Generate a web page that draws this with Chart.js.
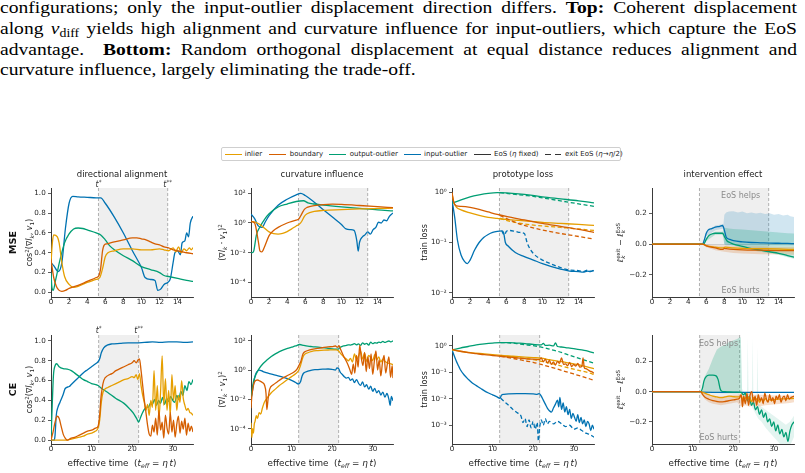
<!DOCTYPE html>
<html>
<head>
<meta charset="utf-8">
<script src="https://cdn.jsdelivr.net/npm/chart.js@4.4.1/dist/chart.umd.min.js"></script>
<style>
  body { margin: 0; width: 805px; height: 473px; position: relative; overflow: hidden; background: #fff; }
  #caption { position: absolute; left: 0; top: -1.6px; width: 693px; transform: scaleX(1.15); transform-origin: 0 0;
             font-family: 'Liberation Serif', 'Times New Roman', serif; font-size: 17px; color: #000; }
  #caption div { height: 20.7px; line-height: 20.7px; white-space: nowrap; }
  #caption .j { text-align: justify; text-align-last: justify; }
  #caption sub { font-size: 12px; line-height: 0; vertical-align: -3px; }
  #legend { position: absolute; left: 221px; top: 147px; width: 398px; height: 12px; border: 1px solid #cfcfcf; border-radius: 2px;
            font-family: 'DejaVu Sans'; font-size: 7px; color: #222; }
  #legend .ln { position: absolute; top: 5.5px; width: 17px; height: 1.5px; }
  #legend .tx { position: absolute; top: 0; line-height: 12px; white-space: nowrap; }
  canvas { position: absolute; }
</style>
</head>
<body>
<div id="caption">
  <div class="j">configurations; only the input-outlier displacement direction differs. <b>Top:</b> Coherent displacement</div>
  <div class="j">along <i>v</i><sub>diff</sub> yields high alignment and curvature influence for input-outliers, which capture the EoS</div>
  <div class="j">advantage.&nbsp; <b>Bottom:</b> Random orthogonal displacement at equal distance reduces alignment and</div>
  <div>curvature influence, largely eliminating the trade-off.</div>
</div>
<div id="legend"></div>
<script>
// ---------- labels ----------
const seriesNames = ['inlier', 'boundary', 'output-outlier', 'input-outlier'];
const seriesColors = ['#E69F00', '#D55E00', '#009E73', '#0072B2'];
const rowNames = ['MSE', 'CE'];
const panelTitles = ['directional alignment', 'curvature influence', 'prototype loss', 'intervention effect'];

// ---------- ticks ----------
const xTicksMse = [0, 2, 4, 6, 8, 10, 12, 14];
const xTicksCe = [0, 10, 20, 30];
const alignTicks = [0, 0.2, 0.4, 0.6, 0.8, 1.0];
const curvTicks = [1e-4, 1e-2, 1, 1e2];
const lossTicksMse = [1e-2, 1e-1, 1];
const lossTicksCe = [1e-3, 1e-2, 1e-1, 1];
const effectTicks = [-0.2, 0, 0.2];

// EoS window (t*, t**)
const tStarMse = [5.25, 12.9];
const tStarCe = [11.75, 21.6];

// ---------- MSE: directional alignment ----------
const mseAlignInX  = [0, 0.15, 0.3, 0.7, 0.9, 1.2, 1.5, 2.0, 2.5, 3.0, 4.0, 5.0, 5.4, 5.7, 6.0, 6.3, 7.0, 8.0, 9.0, 10.0, 11.0, 12.0, 12.5, 13.0, 13.5, 13.8, 14.1, 14.4, 14.7, 15.0, 15.3, 15.5, 15.7];
const mseAlignIn   = [0.30, 0.50, 0.58, 0.56, 0.50, 0.30, 0.16, 0.08, 0.05, 0.06, 0.10, 0.13, 0.15, 0.24, 0.36, 0.40, 0.42, 0.44, 0.44, 0.43, 0.43, 0.44, 0.43, 0.42, 0.45, 0.41, 0.46, 0.40, 0.44, 0.42, 0.45, 0.43, 0.45];
const mseAlignBdX  = [0, 0.3, 0.6, 0.9, 1.2, 1.6, 2.0, 3.0, 4.0, 5.0, 5.3, 5.5, 5.7, 5.9, 6.2, 7.0, 8.0, 9.0, 9.5, 10.0, 10.5, 11.0, 11.5, 12.0, 12.5, 13.0, 13.5, 14.0, 14.5, 15.0, 15.7];
const mseAlignBd   = [0.33, 0.15, 0.06, 0.02, 0.01, 0.02, 0.04, 0.07, 0.11, 0.15, 0.17, 0.25, 0.42, 0.48, 0.49, 0.51, 0.53, 0.55, 0.55, 0.54, 0.53, 0.51, 0.49, 0.48, 0.46, 0.45, 0.43, 0.42, 0.41, 0.40, 0.39];
const mseAlignOutX = [0, 0.1, 0.25, 0.5, 1.0, 1.5, 2.0, 2.5, 3.0, 3.5, 4.0, 5.0, 5.5, 6.0, 6.5, 7.0, 8.0, 9.0, 10.0, 11.0, 12.0, 12.5, 13.0, 14.0, 15.0, 15.7];
const mseAlignOut  = [0.20, 0.05, 0.02, 0.12, 0.33, 0.50, 0.59, 0.64, 0.65, 0.645, 0.63, 0.60, 0.58, 0.53, 0.47, 0.43, 0.37, 0.32, 0.26, 0.23, 0.20, 0.17, 0.16, 0.14, 0.12, 0.11];
const mseAlignInpX = [0, 0.3, 0.8, 1.2, 1.6, 2.0, 2.4, 3.0, 4.0, 5.0, 5.5, 6.0, 7.0, 8.0, 9.0, 10.0, 10.4, 11.0, 11.5, 11.8, 12.1, 12.5, 12.9, 13.2, 13.5, 13.7, 14.0, 14.3, 14.5, 14.8, 15.0, 15.2, 15.4, 15.7];
const mseAlignInp  = [0.30, 0.27, 0.21, 0.30, 0.65, 0.90, 0.97, 0.965, 0.96, 0.955, 0.955, 0.90, 0.76, 0.60, 0.42, 0.25, 0.15, 0.13, 0.12, 0.02, 0.03, 0.08, 0.10, 0.14, 0.30, 0.40, 0.42, 0.38, 0.50, 0.52, 0.60, 0.56, 0.70, 0.77];

// ---------- MSE: curvature influence (log10 of value) ----------
const mseCurvInX  = [0, 0.5, 1.0, 1.5, 2.0, 2.5, 3.0, 3.5, 4.0, 4.5, 5.0, 5.3, 5.6, 5.9, 6.2, 7.0, 8.0, 10.0, 12.0, 14.0, 15.7];
const mseCurvIn   = [0.1, 0.05, -0.1, -0.35, -0.6, -0.72, -0.75, -0.7, -0.58, -0.4, -0.2, -0.1, 0.1, 0.45, 0.62, 0.78, 0.85, 0.9, 0.95, 0.98, 1.0];
const mseCurvBdX  = [0, 0.4, 0.8, 1.0, 1.2, 1.5, 2.0, 2.5, 3.0, 4.0, 5.0, 5.3, 5.6, 5.9, 6.2, 7.0, 8.0, 9.0, 10.0, 12.0, 14.0, 15.7];
const mseCurvBd   = [0.1, 0.0, -1.2, -1.9, -1.95, -1.6, -0.85, -0.5, -0.3, 0.0, 0.2, 0.28, 0.6, 0.92, 1.05, 1.17, 1.24, 1.27, 1.25, 1.18, 1.1, 1.03];
const mseCurvOutX = [0, 0.15, 0.3, 0.6, 1.0, 1.5, 2.0, 3.0, 4.0, 5.0, 5.8, 6.3, 7.0, 8.0, 10.0, 12.0, 14.0, 15.7];
const mseCurvOut  = [-2.0, -2.0, -1.9, -0.8, -0.25, 0.25, 0.62, 1.08, 1.28, 1.45, 1.5, 1.36, 1.28, 1.2, 1.08, 0.98, 0.88, 0.82];
const mseCurvInpX = [0, 0.4, 0.8, 1.2, 1.6, 2.0, 3.0, 4.0, 5.0, 5.5, 6.0, 7.0, 8.0, 9.0, 10.0, 10.5, 11.0, 11.4, 11.7, 11.85, 12.0, 12.3, 12.6, 12.9, 13.2, 13.5, 13.8, 14.1, 14.4, 14.7, 15.0, 15.3, 15.7];
const mseCurvInp  = [0.6, 0.3, -0.2, -0.3, 0.1, 0.5, 1.2, 1.6, 1.9, 2.0, 1.85, 1.4, 0.9, 0.4, -0.1, -0.4, -0.45, -0.5, -1.2, -1.9, -1.3, -0.95, -0.8, -0.6, -0.75, -0.45, -0.3, 0.05, 0.0, 0.2, 0.15, 0.45, 0.68];

// ---------- MSE: prototype loss (log10), solid = EoS, dashed = exit EoS ----------
const mseLossInX      = [0, 0.2, 0.5, 1, 2, 3, 4, 5, 6, 8, 10, 12, 14, 15.7];
const mseLossIn       = [-0.03, -0.2, -0.3, -0.35, -0.41, -0.46, -0.5, -0.52, -0.54, -0.57, -0.6, -0.62, -0.64, -0.66];
const mseLossInExitX  = [5.3, 6, 7, 8, 10, 12, 14, 15.7];
const mseLossInExit   = [-0.52, -0.56, -0.6, -0.63, -0.67, -0.7, -0.73, -0.76];
const mseLossBdX      = [0, 0.2, 0.5, 1, 2, 3, 4, 5, 6, 8, 10, 12, 14, 15.7];
const mseLossBd       = [0.0, -0.2, -0.27, -0.28, -0.3, -0.34, -0.39, -0.44, -0.48, -0.55, -0.62, -0.68, -0.74, -0.8];
const mseLossBdExitX  = [5.3, 6, 7, 8, 10, 12, 14, 15.7];
const mseLossBdExit   = [-0.46, -0.52, -0.6, -0.66, -0.75, -0.82, -0.88, -0.93];
const mseLossOutX     = [0, 1, 2, 3, 4, 5, 6, 8, 10, 12, 14, 15.7];
const mseLossOut      = [-0.22, -0.15, -0.09, -0.05, -0.02, -0.005, -0.01, -0.04, -0.09, -0.13, -0.17, -0.21];
const mseLossOutExitX = [5.3, 6, 7, 8, 9, 10, 12, 14, 15.7];
const mseLossOutExit  = [-0.005, -0.02, -0.04, -0.06, -0.08, -0.11, -0.17, -0.23, -0.28];
const mseLossInpX     = [0, 0.3, 0.6, 1.0, 1.4, 1.7, 2.0, 2.5, 3.0, 3.5, 4.0, 4.5, 5.0, 5.5, 5.7, 5.9, 6.2, 7, 8, 9, 10, 11, 12, 13, 14, 14.5, 15, 15.3, 15.7];
const mseLossInp      = [-0.15, -0.5, -0.95, -1.25, -1.38, -1.42, -1.35, -1.15, -1.0, -0.9, -0.84, -0.8, -0.78, -0.77, -0.8, -1.0, -1.07, -1.2, -1.28, -1.35, -1.42, -1.48, -1.53, -1.57, -1.58, -1.59, -1.57, -1.58, -1.56];
const mseLossInpExitX = [5.5, 5.8, 6.0, 6.3, 7, 7.5, 8.0, 8.3, 8.6, 9, 10, 11, 12, 13, 14, 14.5, 15, 15.3, 15.7];
const mseLossInpExit  = [-0.77, -0.85, -0.78, -0.76, -0.78, -0.8, -0.82, -1.0, -1.12, -1.22, -1.35, -1.43, -1.5, -1.55, -1.56, -1.58, -1.55, -1.57, -1.55];

// ---------- MSE: intervention effect ----------
const mseEffInX  = [0, 5.6, 6.0, 7.0, 7.8, 8.1, 9, 10, 12, 14, 15.7];
const mseEffIn   = [0, 0, -0.01, -0.02, -0.025, -0.02, -0.025, -0.028, -0.03, -0.032, -0.035];
const mseEffBdX  = [0, 5.6, 6.0, 7.0, 7.8, 8.0, 8.2, 9, 10, 12, 14, 15.7];
const mseEffBd   = [0, 0, -0.012, -0.025, -0.035, -0.028, -0.03, -0.035, -0.038, -0.04, -0.042, -0.043];
const mseEffOutX = [0, 5.7, 6.0, 6.3, 6.6, 7.0, 7.8, 8.0, 8.3, 8.6, 9, 10, 11, 12, 13, 14, 15, 15.7];
const mseEffOut  = [0, 0, 0.03, 0.055, 0.065, 0.07, 0.07, 0.05, 0.02, 0.01, 0.0, -0.015, -0.03, -0.04, -0.05, -0.06, -0.075, -0.085];
const mseEffInpX = [0, 5.6, 5.8, 6.0, 6.2, 6.6, 7.0, 7.5, 7.8, 8.0, 8.2, 8.6, 9, 10, 11, 12, 13, 14, 15, 15.7];
const mseEffInp  = [0, 0, 0.03, 0.07, 0.09, 0.10, 0.11, 0.115, 0.12, 0.09, 0.045, 0.03, 0.022, 0.014, 0.01, 0.008, 0.006, 0.005, 0.004, 0.003];
// spread bands
const mseBandInpX  = [5.6, 6.0, 7.0, 7.9, 8.0, 8.2, 8.5, 9, 9.5, 10, 10.5, 11, 11.5, 12, 12.5, 13, 13.5, 14, 14.5, 15, 15.3, 15.7];
const mseBandInpHi = [0, 0.08, 0.12, 0.13, 0.19, 0.205, 0.21, 0.212, 0.205, 0.21, 0.2, 0.205, 0.198, 0.202, 0.195, 0.2, 0.19, 0.195, 0.185, 0.19, 0.18, 0.175];
const mseBandInpLo = [0, 0.05, 0.09, 0.1, -0.005, -0.01, -0.01, -0.01, -0.01, -0.01, -0.01, -0.01, -0.01, -0.01, -0.01, -0.01, -0.01, -0.01, -0.01, -0.01, -0.01, -0.01];
const mseBandOutX  = [5.7, 6.0, 7.0, 7.8, 8.0, 8.5, 9, 10, 11, 12, 13, 14, 15, 15.7];
const mseBandOutHi = [0, 0.04, 0.08, 0.08, 0.105, 0.1, 0.098, 0.095, 0.09, 0.085, 0.08, 0.075, 0.07, 0.068];
const mseBandOutLo = [0, 0.02, 0.06, 0.06, 0.0, -0.005, -0.01, -0.025, -0.04, -0.05, -0.06, -0.07, -0.085, -0.095];
const mseBandBdX   = [5.6, 6.0, 7.0, 8.0, 9, 10, 12, 14, 15.7];
const mseBandBdHi  = [0, -0.003, -0.01, -0.01, -0.012, -0.015, -0.015, -0.017, -0.018];
const mseBandBdLo  = [0, -0.02, -0.04, -0.05, -0.058, -0.062, -0.066, -0.068, -0.07];

// ---------- CE: directional alignment ----------
const ceAlignInpX = [0, 0.8, 1.0, 1.3, 1.7, 2.2, 3, 3.5, 4.5, 5, 6, 7, 8, 9, 10, 11, 11.6, 12.0, 12.4, 13, 14, 15, 17, 19, 21, 23, 25, 27, 29, 31, 33, 35];
const ceAlignInp  = [0.0, 0.0, 0.05, 0.25, 0.33, 0.38, 0.46, 0.52, 0.54, 0.56, 0.60, 0.64, 0.68, 0.71, 0.74, 0.77, 0.79, 0.82, 0.88, 0.93, 0.96, 0.97, 0.975, 0.98, 0.98, 0.985, 0.99, 0.985, 0.99, 0.99, 0.985, 0.99];
const ceAlignOutX = [0, 0.3, 0.6, 1.0, 1.4, 2.0, 3, 4, 5, 6, 7, 8, 9, 10, 11, 11.6, 12.5, 14, 16, 18, 19.5, 20.5, 21.2, 21.6, 22.0, 22.5, 23.0, 23.5, 24.0, 24.5, 25.0, 25.5, 26, 26.5, 27, 27.5, 28, 28.5, 29, 29.5, 30, 30.5, 31, 31.5, 32, 32.5, 33, 33.5, 34, 34.5, 35];
const ceAlignOut  = [0.0, 0.35, 0.65, 0.75, 0.77, 0.74, 0.72, 0.715, 0.70, 0.67, 0.64, 0.61, 0.59, 0.57, 0.56, 0.55, 0.52, 0.48, 0.42, 0.37, 0.31, 0.26, 0.21, 0.18, 0.22, 0.27, 0.31, 0.33, 0.33, 0.37, 0.36, 0.41, 0.35, 0.40, 0.37, 0.43, 0.36, 0.42, 0.39, 0.44, 0.40, 0.38, 0.45, 0.41, 0.49, 0.45, 0.55, 0.50, 0.59, 0.56, 0.61];
const ceAlignBdX  = [0, 0.5, 1.0, 1.5, 2.0, 2.5, 3, 3.5, 4, 5, 6, 7, 8, 9, 10, 11, 11.6, 12.0, 12.3, 12.6, 13, 14, 15, 16, 17, 18, 19, 20, 20.5, 21, 21.5, 21.8, 22.2, 22.6, 23.0, 23.4, 23.8, 24.2, 24.6, 25.0, 25.4, 25.8, 26.2, 26.6, 27.0, 27.4, 27.8, 28.2, 28.6, 29.0, 29.4, 29.8, 30.2, 30.6, 31.0, 31.4, 31.8, 32.2, 32.6, 33.0, 33.4, 33.8, 34.2, 34.6, 35];
const ceAlignBd   = [0.0, 0.08, 0.18, 0.24, 0.22, 0.14, 0.06, 0.02, 0.0, 0.02, 0.03, 0.05, 0.07, 0.09, 0.10, 0.12, 0.14, 0.25, 0.42, 0.52, 0.60, 0.65, 0.67, 0.70, 0.72, 0.74, 0.76, 0.78, 0.80, 0.78, 0.81, 0.82, 0.70, 0.55, 0.40, 0.28, 0.15, 0.06, 0.04, 0.15, 0.08, 0.22, 0.05, 0.30, 0.10, 0.18, 0.02, 0.25, 0.12, 0.06, 0.28, 0.08, 0.20, 0.03, 0.16, 0.24, 0.07, 0.19, 0.11, 0.22, 0.05, 0.17, 0.09, 0.14, 0.08];
const ceAlignInX  = [0, 1, 2, 3, 4, 5, 6, 7, 8, 9, 10, 11, 11.6, 12.0, 12.4, 12.8, 13.2, 14, 15, 16, 17, 18, 19, 20, 20.5, 21, 21.4, 21.8, 22.2, 22.6, 23.0, 23.4, 23.8, 24.2, 24.6, 25.0, 25.4, 25.8, 26.2, 26.6, 27.0, 27.4, 27.8, 28.2, 28.6, 29.0, 29.4, 29.8, 30.2, 30.6, 31.0, 31.4, 31.8, 32.2, 32.6, 33.0, 33.4, 33.8, 34.2, 34.6, 35];
const ceAlignIn   = [0.0, 0.0, 0.0, 0.0, 0.0, 0.01, 0.02, 0.03, 0.04, 0.06, 0.07, 0.09, 0.12, 0.2, 0.38, 0.48, 0.51, 0.53, 0.55, 0.57, 0.59, 0.61, 0.62, 0.64, 0.63, 0.66, 0.61, 0.67, 0.55, 0.45, 0.38, 0.30, 0.36, 0.25, 0.40, 0.33, 0.70, 0.30, 0.55, 0.22, 0.48, 0.85, 0.35, 0.62, 0.30, 0.50, 0.25, 0.66, 0.40, 0.55, 0.30, 0.45, 0.38, 0.60, 0.42, 0.35, 0.30, 0.32, 0.28, 0.27, 0.25];

// ---------- CE: curvature influence (log10 of value) ----------
const ceCurvOutX = [0, 0.3, 0.6, 1.0, 1.5, 2, 3, 4, 5, 6, 7, 8, 9, 10, 11, 12, 13, 14, 15, 17, 19, 20.5, 21.5, 22.0, 22.5, 23, 23.5, 24, 24.5, 25, 25.5, 26, 26.5, 27, 27.5, 28, 28.5, 29, 29.5, 30, 30.5, 31, 31.5, 32, 32.5, 33, 33.5, 34, 34.5, 35];
const ceCurvOut  = [-2.0, -1.3, -0.8, -0.45, -0.15, 0.1, 0.45, 0.7, 0.92, 1.1, 1.26, 1.38, 1.48, 1.56, 1.64, 1.74, 1.68, 1.63, 1.6, 1.55, 1.48, 1.43, 1.42, 1.55, 1.62, 1.65, 1.68, 1.72, 1.7, 1.74, 1.8, 1.72, 1.78, 1.68, 1.85, 1.76, 1.82, 1.7, 1.9, 1.8, 1.86, 1.84, 1.9, 1.87, 1.95, 1.88, 1.93, 1.98, 1.92, 2.0];
const ceCurvInpX = [0, 0.3, 0.6, 1.0, 1.5, 2.0, 3, 4, 6, 8, 10, 11, 11.7, 12.2, 12.6, 13, 14, 15, 16, 17, 18, 19, 20, 20.8, 21.2, 21.6, 22.0, 22.5, 23.0, 23.5, 24.0, 24.5, 25.0, 25.5, 26.0, 26.5, 27.0, 27.5, 28.0, 28.5, 29.0, 29.5, 30.0, 30.5, 31.0, 31.5, 32.0, 32.5, 33.0, 33.5, 34.0, 34.3, 34.6, 35];
const ceCurvInp  = [-2.0, -1.5, -1.0, -0.4, -0.1, 0.0, -0.1, -0.2, -0.35, -0.5, -0.7, -0.85, -0.95, -0.8, -0.4, -0.2, -0.08, 0.0, 0.03, 0.05, 0.06, 0.07, 0.05, 0.0, 0.15, 0.1, -0.15, -0.3, -0.45, -0.55, -0.5, -0.7, -0.6, -0.85, -0.65, -0.9, -1.05, -0.8, -1.15, -1.0, -1.3, -1.1, -1.45, -1.25, -1.55, -1.4, -1.7, -1.5, -1.85, -1.6, -2.0, -2.4, -1.8, -2.1];
const ceCurvBdX  = [0, 0.2, 0.5, 0.8, 1.2, 1.6, 2.2, 2.8, 3.3, 3.7, 3.9, 4.2, 4.6, 5.5, 6.5, 7.5, 8.5, 9.5, 10.5, 11.3, 11.8, 12.3, 12.8, 13.5, 14.5, 16, 17.5, 19, 20, 20.8, 21.3, 21.7, 22.1, 22.5, 23.0, 23.5, 24.0, 24.4, 24.8, 25.2, 25.6, 26.0, 26.4, 26.8, 27.2, 27.6, 28.0, 28.4, 28.8, 29.2, 29.6, 30.0, 30.4, 30.8, 31.2, 31.6, 32.0, 32.4, 32.8, 33.2, 33.6, 34.0, 34.4, 34.8, 35];
const ceCurvBd   = [-2.6, -1.8, -1.2, -0.85, -0.7, -0.68, -0.75, -0.85, -1.0, -1.6, -2.7, -2.0, -1.3, -1.0, -0.8, -0.6, -0.45, -0.3, -0.15, 0.05, 0.3, 0.6, 1.1, 1.28, 1.38, 1.46, 1.52, 1.58, 1.6, 1.64, 1.55, 1.66, 1.4, 1.15, 0.85, 0.6, 0.3, 0.0, -0.3, 0.4, -0.2, 1.0, 0.2, 1.7, 0.8, 0.3, 1.2, -0.1, 0.9, 0.1, 1.1, -0.3, 0.6, 1.3, 0.0, 0.7, -0.4, 0.5, 1.0, -0.2, 0.4, 0.9, -0.5, 0.3, -0.55];
const ceCurvInX  = [0, 0.2, 0.4, 0.6, 0.8, 1.0, 1.3, 1.6, 2.0, 2.4, 2.8, 3.3, 4, 5, 6, 7, 8, 9, 10, 11, 11.7, 12.2, 12.6, 13, 14, 15, 16.5, 18, 19.5, 21, 21.6, 22.0, 22.5, 23, 23.5, 24, 24.5, 25, 25.5, 26, 26.5, 27, 27.5, 28, 28.5, 29, 29.5, 30, 30.5, 31, 31.5, 32, 32.5, 33, 33.5, 34, 34.5, 35];
const ceCurvIn   = [-3.6, -4.6, -4.0, -4.3, -3.7, -3.5, -3.1, -3.3, -2.9, -3.0, -2.6, -2.2, -1.9, -1.55, -1.3, -1.05, -0.85, -0.65, -0.45, -0.25, -0.05, 0.3, 0.7, 1.0, 1.18, 1.28, 1.33, 1.36, 1.37, 1.38, 1.3, 1.15, 1.0, 0.85, 0.75, 0.62, 0.8, 0.55, 1.1, 0.7, 0.95, 1.3, 0.75, 1.15, 0.6, 1.0, 0.85, 0.65, 1.05, 0.7, 0.9, 0.55, 0.75, 0.6, 0.5, 0.45, 0.42, 0.36];

// ---------- CE: prototype loss (log10) ----------
const ceLossOutX     = [0, 2, 4, 6, 8, 10, 12, 14, 16, 18, 20, 22, 22.5, 23, 24, 25, 25.5, 26, 27, 28, 30, 32, 33, 34, 35];
const ceLossOut      = [-0.15, -0.08, -0.02, 0.04, 0.08, 0.11, 0.13, 0.13, 0.11, 0.09, 0.06, 0.04, 0.1, 0.02, 0.03, 0.0, 0.12, -0.02, -0.04, -0.06, -0.1, -0.15, -0.18, -0.22, -0.26];
const ceLossOutExitX = [12, 14, 16, 18, 20, 22, 24, 26, 28, 30, 32, 34, 35];
const ceLossOutExit  = [0.13, 0.12, 0.09, 0.05, 0.01, -0.04, -0.12, -0.2, -0.3, -0.4, -0.5, -0.6, -0.65];
const ceLossInX      = [0, 2, 5, 8, 10, 12, 15, 18, 20, 22, 24, 26, 28, 30, 32, 34, 35];
const ceLossIn       = [-0.15, -0.2, -0.26, -0.3, -0.33, -0.36, -0.39, -0.42, -0.44, -0.46, -0.52, -0.57, -0.62, -0.68, -0.74, -0.82, -0.86];
const ceLossInExitX  = [12, 15, 18, 20, 22, 25, 28, 30, 32, 34, 35];
const ceLossInExit   = [-0.36, -0.42, -0.48, -0.52, -0.58, -0.68, -0.8, -0.88, -0.95, -1.03, -1.08];
const ceLossBdX      = [0, 2, 4, 6, 8, 10, 12, 14, 16, 18, 20, 21.5, 22, 22.5, 23, 23.5, 24, 24.5, 25, 25.5, 26, 26.5, 27, 27.5, 28, 28.5, 29, 29.5, 30, 30.5, 31, 31.5, 32, 32.3, 32.6, 33, 33.5, 34, 34.5, 35];
const ceLossBd       = [-0.13, -0.2, -0.25, -0.29, -0.33, -0.36, -0.39, -0.42, -0.45, -0.48, -0.5, -0.52, -0.45, -0.6, -0.5, -0.65, -0.55, -0.7, -0.6, -0.72, -0.58, -0.66, -0.45, -0.7, -0.68, -0.75, -0.62, -0.78, -0.7, -0.76, -0.66, -0.8, -0.78, -0.45, -0.82, -0.86, -0.9, -0.95, -0.98, -1.03];
const ceLossBdExitX  = [12, 15, 18, 20, 22, 25, 28, 30, 32, 34, 35];
const ceLossBdExit   = [-0.39, -0.47, -0.56, -0.62, -0.7, -0.83, -0.97, -1.06, -1.15, -1.25, -1.3];
const ceLossInpX     = [0, 0.5, 1, 1.5, 2, 3, 4, 5, 6, 7, 8, 9, 10, 11, 11.8, 12.2, 12.8, 14, 16, 18, 20, 21, 21.5, 22, 22.5, 23, 23.5, 24, 24.5, 25, 25.5, 26, 26.3, 26.6, 27, 27.4, 27.8, 28.2, 28.6, 29, 29.4, 29.8, 30.2, 30.6, 31, 31.4, 31.8, 32.2, 32.6, 33, 33.4, 33.8, 34.2, 34.6, 35];
const ceLossInp      = [-0.15, -0.35, -0.55, -0.72, -0.88, -1.1, -1.26, -1.4, -1.5, -1.6, -1.7, -1.78, -1.85, -1.92, -1.98, -1.86, -1.83, -1.81, -1.8, -1.8, -1.81, -1.83, -1.8, -1.9, -2.05, -2.2, -2.35, -2.45, -2.5, -2.35, -2.2, -2.05, -2.3, -1.95, -2.4, -2.15, -2.5, -2.3, -2.6, -2.4, -2.75, -2.55, -2.7, -2.85, -2.6, -2.9, -2.7, -2.95, -2.8, -3.05, -2.85, -2.95, -3.2, -3.0, -3.15];
const ceLossInpExitX = [12, 13, 14, 15, 16, 17, 17.5, 18, 18.5, 19, 19.5, 20, 20.5, 21, 21.3, 21.6, 22, 22.5, 23, 23.5, 24, 25, 26, 27, 28, 29, 30, 31, 32, 33, 34, 35];
const ceLossInpExit  = [-1.98, -2.12, -2.25, -2.4, -2.52, -2.65, -2.9, -2.75, -3.05, -2.8, -3.1, -2.85, -3.15, -2.9, -3.6, -3.1, -2.8, -3.0, -2.75, -2.95, -2.85, -2.95, -2.85, -2.95, -3.05, -3.0, -3.15, -3.1, -3.2, -3.3, -3.35, -3.45];

// ---------- CE: intervention effect ----------
const ceEffOutX = [0, 12, 12.4, 12.8, 13.2, 14, 15, 15.8, 16.3, 16.8, 17.2, 18, 19, 20, 21, 22, 22.5, 23, 23.5, 24, 24.5, 25, 25.5, 26, 26.5, 27, 27.5, 28, 28.5, 29, 29.5, 30, 30.5, 31, 31.5, 32, 32.5, 33, 33.5, 34, 34.5, 35];
const ceEffOut  = [0, 0, 0.02, 0.07, 0.095, 0.11, 0.11, 0.105, 0.08, 0.02, 0.003, 0.0, -0.002, -0.003, -0.003, -0.005, -0.02, -0.01, -0.06, -0.03, -0.09, -0.07, -0.12, -0.1, -0.15, -0.12, -0.17, -0.14, -0.2, -0.18, -0.23, -0.2, -0.26, -0.22, -0.28, -0.25, -0.3, -0.27, -0.33, -0.26, -0.22, -0.2];
const ceEffInpX = [0, 12, 12.5, 15, 20, 22, 25, 30, 35];
const ceEffInp  = [0, 0, -0.003, -0.004, -0.004, -0.005, -0.005, -0.005, -0.005];
const ceEffInX  = [0, 12, 12.5, 13, 14, 15, 16, 17, 18, 19, 20, 21, 21.5, 22, 22.5, 23, 23.5, 24, 24.5, 25, 25.5, 26, 26.5, 27, 27.5, 28, 28.5, 29, 29.5, 30, 31, 32, 33, 34, 35];
const ceEffIn   = [0, 0, -0.005, -0.01, -0.02, -0.03, -0.035, -0.04, -0.035, -0.03, -0.033, -0.035, -0.035, -0.03, -0.06, -0.04, -0.05, -0.035, -0.065, -0.04, -0.055, -0.045, -0.07, -0.05, -0.06, -0.045, -0.065, -0.05, -0.06, -0.052, -0.05, -0.048, -0.047, -0.046, -0.045];
const ceEffBdX  = [0, 12, 12.5, 13, 14, 15, 16, 17, 18, 19, 20, 21, 21.5, 22, 22.3, 22.6, 23, 23.4, 23.8, 24.2, 24.6, 25, 25.4, 25.8, 26.2, 26.6, 27, 27.4, 27.8, 28.2, 28.6, 29, 29.4, 29.8, 30.2, 30.6, 31, 31.4, 31.8, 32.2, 32.6, 33, 33.4, 33.8, 34.2, 34.6, 35];
const ceEffBd   = [0, 0, -0.02, -0.035, -0.05, -0.06, -0.065, -0.068, -0.065, -0.06, -0.055, -0.05, -0.045, -0.02, -0.1, -0.03, -0.08, -0.01, -0.09, -0.02, 0.0, -0.07, -0.03, -0.09, -0.02, -0.06, -0.04, -0.08, -0.01, -0.05, -0.07, -0.02, -0.06, -0.04, -0.08, -0.03, -0.05, -0.02, -0.07, -0.04, -0.03, -0.06, -0.02, -0.05, -0.04, -0.035, -0.03];
// output-outlier spread: dense part inside the window, faint part after t**
const ceBandOutX      = [12, 12.5, 13, 14, 15, 16, 17, 18, 19, 20, 21, 21.5, 21.9, 22.2];
const ceBandOutHi     = [0, 0.03, 0.1, 0.15, 0.22, 0.28, 0.3, 0.31, 0.33, 0.34, 0.35, 0.36, 0.36, 0.02];
const ceBandOutLo     = [0, 0, 0, 0, -0.005, -0.005, -0.01, -0.01, -0.01, -0.01, -0.01, -0.01, -0.01, -0.02];
const ceBandOutLateX  = [22.2, 22.6, 23.0, 23.4, 23.6, 23.8, 24.6, 24.8, 25.0, 25.8, 26.0, 26.2, 27, 28, 29, 30, 31, 32, 33, 34, 35];
const ceBandOutLateHi = [0.02, 0.0, -0.01, -0.02, 0.36, -0.03, -0.06, 0.36, -0.06, -0.08, 0.3, -0.08, -0.1, -0.12, -0.14, -0.16, -0.18, -0.2, -0.22, -0.2, -0.16];
const ceBandOutLateLo = [-0.02, -0.04, -0.05, -0.06, -0.07, -0.08, -0.1, -0.11, -0.12, -0.16, -0.17, -0.18, -0.2, -0.24, -0.27, -0.3, -0.33, -0.36, -0.4, -0.36, -0.3];
const ceBandBdX   = [12, 13, 14, 15, 16, 17, 18, 19, 20, 21, 22, 23, 24, 25, 26, 28, 30, 32, 34, 35];
const ceBandBdHi  = [0, -0.01, -0.02, -0.025, -0.03, -0.03, -0.028, -0.025, -0.02, -0.02, -0.01, -0.02, -0.01, -0.02, -0.02, -0.02, -0.025, -0.025, -0.025, -0.025];
const ceBandBdLo  = [0, -0.05, -0.07, -0.08, -0.085, -0.09, -0.085, -0.08, -0.075, -0.07, -0.1, -0.09, -0.1, -0.09, -0.1, -0.09, -0.085, -0.08, -0.075, -0.07];

// ---------- helpers ----------
const FONT = '"DejaVu Sans"';
const [C_IN, C_BD, C_OUT, C_INP] = seriesColors;
const pts = (xs, ys) => xs.map((x, i) => ({ x, y: ys[i] }));
const exp10 = a => a.map(v => Math.pow(10, v));

function line(xs, ys, color, dashed) {
  return {
    data: pts(xs, ys), borderColor: color, borderWidth: 1.3, borderDash: dashed ? [4, 2.5] : [],
    pointRadius: 0, fill: false, cubicInterpolationMode: 'monotone'
  };
}
function band(xs, lo, hi, color) {
  return [
    { data: pts(xs, hi), borderWidth: 0, pointRadius: 0, fill: '+1', backgroundColor: color, tension: 0 },
    { data: pts(xs, lo), borderWidth: 0, pointRadius: 0, fill: false, tension: 0 }
  ];
}

const supMap = { '-': '\u207B', '0': '\u2070', '1': '\u00B9', '2': '\u00B2', '3': '\u00B3', '4': '\u2074' };
const logLabel = v => '10' + String(Math.round(Math.log10(v))).split('').map(c => supMap[c]).join('');
const decLabel = v => (v < -1e-9 ? '\u2212' : '') + Math.abs(v).toFixed(1);

// rich text: [text, flags]  i=italic b=bold d=sub u=sup z=stack on previous
function drawRich(ctx, segs, x, y, size, rotate, color) {
  ctx.save();
  ctx.translate(x, y);
  if (rotate) ctx.rotate(-Math.PI / 2);
  ctx.fillStyle = color;
  ctx.textAlign = 'left';
  ctx.textBaseline = 'alphabetic';
  const parts = [];
  let cur = 0, prevStart = 0, prevW = 0;
  segs.forEach(([t, k]) => {
    const small = k.includes('d') || k.includes('u');
    const font = (k.includes('i') ? 'italic ' : '') + (k.includes('b') ? 'bold ' : '') + (small ? size * 0.7 : size) + 'px ' + FONT;
    ctx.font = font;
    const w = ctx.measureText(t).width;
    const dy = k.includes('d') ? size * 0.25 : k.includes('u') ? -size * 0.42 : 0;
    let x0;
    if (k.includes('z')) { x0 = prevStart; cur = prevStart + Math.max(prevW, w); }
    else { x0 = cur; prevStart = cur; prevW = w; cur += w; }
    parts.push({ t, font, x0, dy });
  });
  const off = -cur / 2, base = size * 0.36;
  parts.forEach(p => { ctx.font = p.font; ctx.fillText(p.t, off + p.x0, base + p.dy); });
  ctx.restore();
}

const alignLabel = [['cos', ''], ['2', 'u'], ['(\u2207', ''], ['l', 'i'], ['k', 'id'], [', ', ''], ['v', 'i'], ['1', 'd'], [')', '']];
const curvLabel = [['(\u2207', ''], ['l', 'i'], ['k', 'id'], [' \u00B7 ', ''], ['v', 'i'], ['1', 'd'], [')', ''], ['2', 'u']];
const lossLabel = [['train loss', '']];
const effLabel = [['\u2113', 'i'], ['k', 'id'], ['exit', 'uz'], [' \u2212 ', ''], ['\u2113', 'i'], ['k', 'id'], ['EoS', 'uz']];
const timeLabel = [['effective time  (', ''], ['t', 'i'], ['eff', 'id'], [' = ', ''], ['\u03B7', 'i'], ['\u2009', ''], ['t', 'i'], [')', '']];

const decor = {
  id: 'decor',
  beforeDatasetsDraw(chart, args, o) {
    const { ctx, chartArea: a, scales: { x, y } } = chart;
    const x1 = x.getPixelForValue(o.shade[0]), x2 = x.getPixelForValue(o.shade[1]);
    ctx.save();
    ctx.fillStyle = '#efefef';
    ctx.fillRect(x1, a.top, x2 - x1, a.bottom - a.top);
    if (o.zero) {
      const y0 = Math.round(y.getPixelForValue(0)) + 0.5;
      ctx.strokeStyle = '#c4c4c4'; ctx.lineWidth = 0.8;
      ctx.beginPath(); ctx.moveTo(a.left, y0); ctx.lineTo(a.right, y0); ctx.stroke();
    }
    ctx.strokeStyle = '#a8a8a8'; ctx.lineWidth = 0.9; ctx.setLineDash([3, 2]);
    [x1, x2].forEach(px => { ctx.beginPath(); ctx.moveTo(px, a.top); ctx.lineTo(px, a.bottom); ctx.stroke(); });
    ctx.restore();
  },
  afterDraw(chart, args, o) {
    const { ctx, chartArea: a, scales: { x, y } } = chart;
    const cx = (a.left + a.right) / 2, cy = (a.top + a.bottom) / 2;
    if (o.title) drawRich(ctx, [[o.title, '']], cx, o.titleY, 8.5, false, '#222');
    if (o.tMarkY) {
      drawRich(ctx, [['t', 'i'], ['*', 'u']], x.getPixelForValue(o.shade[0]), o.tMarkY, 8, false, '#333');
      drawRich(ctx, [['t', 'i'], ['**', 'u']], x.getPixelForValue(o.shade[1]), o.tMarkY, 8, false, '#333');
    }
    drawRich(ctx, o.yLabel, o.yLabelX, cy, 8, true, '#222');
    if (o.rowLabel) drawRich(ctx, [[o.rowLabel, 'b']], 13, cy, 9.5, true, '#111');
    if (o.xLabelY) drawRich(ctx, timeLabel, cx, o.xLabelY, 8.8, false, '#222');
    if (o.helpsX !== undefined) {
      const hx = x.getPixelForValue(o.helpsX);
      drawRich(ctx, [['EoS helps', '']], hx, y.getPixelForValue(0.32), 8, false, '#8a8a8a');
      drawRich(ctx, [['EoS hurts', '']], hx, y.getPixelForValue(-0.30), 8, false, '#8a8a8a');
    }
  }
};

// ---------- axes ----------
const axisGrid = { display: true, drawOnChartArea: false, drawTicks: true, tickLength: 3, color: '#333', lineWidth: 0.8 };
const axisBorder = { display: true, color: '#3a3a3a', width: 1 };
const tickFont = { family: 'DejaVu Sans', size: 7.2, lineHeight: 1 };

function xAxis(max, ticks, h) {
  return {
    type: 'linear', min: 0, max,
    afterBuildTicks: s => { s.ticks = ticks.map(v => ({ value: v })); },
    afterFit: s => { s.height = h; },
    grid: axisGrid, border: axisBorder,
    ticks: { font: tickFont, color: '#262626', padding: -1.5, maxRotation: 0, minRotation: 0, autoSkip: false, callback: v => String(v) }
  };
}
function yAxis(type, min, max, ticks, fmt) {
  return {
    type, min, max,
    afterBuildTicks: s => { s.ticks = ticks.map(v => ({ value: v })); },
    afterFit: s => { s.width = 51; },
    grid: axisGrid, border: axisBorder,
    ticks: { font: tickFont, color: '#262626', padding: 2.3, autoSkip: false, callback: fmt }
  };
}

// ---------- layout ----------
const colLefts = [0, 200, 401, 601];
const rowBoxes = [{ top: 165, h: 145, pt: 23 }, { top: 318, h: 155, pt: 17 }];

function makePanel(col, row, datasets, xScale, yScale, deco) {
  const r = rowBoxes[row];
  const cv = document.createElement('canvas');
  cv.width = 201; cv.height = r.h;
  cv.style.left = colLefts[col] + 'px';
  cv.style.top = r.top + 'px';
  document.body.appendChild(cv);
  new Chart(cv, {
    type: 'line',
    data: { datasets },
    options: {
      responsive: false, animation: false, devicePixelRatio: 1,
      layout: { padding: { left: 0, right: 8, top: r.pt, bottom: 0 }, autoPadding: false },
      plugins: { legend: { display: false }, tooltip: { enabled: false }, decor: deco },
      scales: { x: xScale, y: yScale }
    },
    plugins: [decor]
  });
}

// ---------- MSE row ----------
makePanel(0, 0, [
  line(mseAlignBdX, mseAlignBd, C_BD),
  line(mseAlignInX, mseAlignIn, C_IN),
  line(mseAlignOutX, mseAlignOut, C_OUT),
  line(mseAlignInpX, mseAlignInp, C_INP)
], xAxis(15.7, xTicksMse, 13), yAxis('linear', -0.047, 1.054, alignTicks, v => v.toFixed(1)),
  { shade: tStarMse, title: panelTitles[0], titleY: 9, tMarkY: 19, yLabel: alignLabel, yLabelX: 29, rowLabel: rowNames[0] });

makePanel(1, 0, [
  line(mseCurvBdX, exp10(mseCurvBd), C_BD),
  line(mseCurvInX, exp10(mseCurvIn), C_IN),
  line(mseCurvOutX, exp10(mseCurvOut), C_OUT),
  line(mseCurvInpX, exp10(mseCurvInp), C_INP)
], xAxis(15.7, xTicksMse, 13), yAxis('logarithmic', 1.02e-5, 229, curvTicks, logLabel),
  { shade: tStarMse, title: panelTitles[1], titleY: 9, yLabel: curvLabel, yLabelX: 22 });

makePanel(2, 0, [
  line(mseLossBdExitX, exp10(mseLossBdExit), C_BD, true),
  line(mseLossBdX, exp10(mseLossBd), C_BD),
  line(mseLossInExitX, exp10(mseLossInExit), C_IN, true),
  line(mseLossInX, exp10(mseLossIn), C_IN),
  line(mseLossOutExitX, exp10(mseLossOutExit), C_OUT, true),
  line(mseLossOutX, exp10(mseLossOut), C_OUT),
  line(mseLossInpExitX, exp10(mseLossInpExit), C_INP, true),
  line(mseLossInpX, exp10(mseLossInp), C_INP)
], xAxis(15.7, xTicksMse, 13), yAxis('logarithmic', 0.0082, 1.22, lossTicksMse, logLabel),
  { shade: tStarMse, title: panelTitles[2], titleY: 9, yLabel: lossLabel, yLabelX: 23 });

makePanel(3, 0, [
  line(mseEffBdX, mseEffBd, C_BD),
  line(mseEffInX, mseEffIn, C_IN),
  line(mseEffOutX, mseEffOut, C_OUT),
  line(mseEffInpX, mseEffInp, C_INP),
  ...band(mseBandBdX, mseBandBdLo, mseBandBdHi, 'rgba(213,94,0,0.2)'),
  ...band(mseBandOutX, mseBandOutLo, mseBandOutHi, 'rgba(0,158,115,0.22)'),
  ...band(mseBandInpX, mseBandInpLo, mseBandInpHi, 'rgba(0,114,178,0.18)')
], xAxis(15.7, xTicksMse, 13), yAxis('linear', -0.343, 0.363, effectTicks, decLabel),
  { shade: tStarMse, title: panelTitles[3], titleY: 9, yLabel: effLabel, yLabelX: 19, zero: true, helpsX: 9.8 });

// ---------- CE row ----------
makePanel(0, 1, [
  line(ceAlignBdX, ceAlignBd, C_BD),
  line(ceAlignInX, ceAlignIn, C_IN),
  line(ceAlignOutX, ceAlignOut, C_OUT),
  line(ceAlignInpX, ceAlignInp, C_INP)
], xAxis(35, xTicksCe, 29), yAxis('linear', -0.04, 1.06, alignTicks, v => v.toFixed(1)),
  { shade: tStarCe, tMarkY: 12, yLabel: alignLabel, yLabelX: 29, rowLabel: rowNames[1], xLabelY: 144.7 });

makePanel(1, 1, [
  line(ceCurvBdX, exp10(ceCurvBd), C_BD),
  line(ceCurvInX, exp10(ceCurvIn), C_IN),
  line(ceCurvOutX, exp10(ceCurvOut), C_OUT),
  line(ceCurvInpX, exp10(ceCurvInp), C_INP)
], xAxis(35, xTicksCe, 29), yAxis('logarithmic', 9.1e-6, 245, curvTicks, logLabel),
  { shade: tStarCe, yLabel: curvLabel, yLabelX: 22, xLabelY: 144.7 });

makePanel(2, 1, [
  line(ceLossBdExitX, exp10(ceLossBdExit), C_BD, true),
  line(ceLossBdX, exp10(ceLossBd), C_BD),
  line(ceLossInExitX, exp10(ceLossInExit), C_IN, true),
  line(ceLossInX, exp10(ceLossIn), C_IN),
  line(ceLossOutExitX, exp10(ceLossOutExit), C_OUT, true),
  line(ceLossOutX, exp10(ceLossOut), C_OUT),
  line(ceLossInpExitX, exp10(ceLossInpExit), C_INP, true),
  line(ceLossInpX, exp10(ceLossInp), C_INP)
], xAxis(35, xTicksCe, 29), yAxis('logarithmic', 1.95e-4, 2.6, lossTicksCe, logLabel),
  { shade: tStarCe, yLabel: lossLabel, yLabelX: 23, xLabelY: 144.7 });

makePanel(3, 1, [
  line(ceEffBdX, ceEffBd, C_BD),
  line(ceEffInX, ceEffIn, C_IN),
  line(ceEffOutX, ceEffOut, C_OUT),
  line(ceEffInpX, ceEffInp, C_INP),
  ...band(ceBandBdX, ceBandBdLo, ceBandBdHi, 'rgba(213,94,0,0.2)'),
  ...band(ceBandOutX, ceBandOutLo, ceBandOutHi, 'rgba(0,158,115,0.22)'),
  ...band(ceBandOutLateX, ceBandOutLateLo, ceBandOutLateHi, 'rgba(0,158,115,0.11)')
], xAxis(35, xTicksCe, 29), yAxis('linear', -0.347, 0.376, effectTicks, decLabel),
  { shade: tStarCe, yLabel: effLabel, yLabelX: 19, zero: true, helpsX: 16.4, xLabelY: 144.7 });

// ---------- legend ----------
const legendEl = document.getElementById('legend');
const legendLine = [3, 47, 107, 182, 252, 323];
const legendText = [22.7, 67.7, 127.7, 202, 272, 343];
const legendLabels = seriesNames.concat(['EoS (<i>\u03B7</i> fixed)', 'exit EoS (<i>\u03B7</i>\u2192<i>\u03B7</i>/2)']);
legendLabels.forEach((lab, i) => {
  const ln = document.createElement('div');
  ln.className = 'ln';
  ln.style.left = legendLine[i] + 'px';
  if (i < 4) ln.style.background = seriesColors[i];
  else if (i === 4) ln.style.background = '#333';
  else ln.style.background = 'repeating-linear-gradient(90deg, #333 0 6px, transparent 6px 10px)';
  legendEl.appendChild(ln);
  const tx = document.createElement('div');
  tx.className = 'tx';
  tx.style.left = legendText[i] + 'px';
  tx.innerHTML = lab;
  legendEl.appendChild(tx);
});
</script>
</body>
</html>
